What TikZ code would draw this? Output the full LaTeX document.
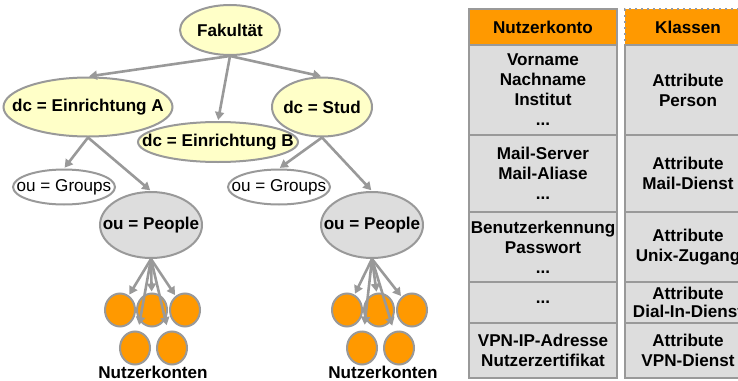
\documentclass[tikz,border=0pt]{standalone}
\usepackage{fontspec}
\setmainfont{Liberation Sans}
\usetikzlibrary{shapes.geometric,arrows.meta}

\definecolor{lineGray}{HTML}{999999}
\definecolor{paleYellow}{HTML}{FFFFC8}
\definecolor{cellGray}{HTML}{DDDDDD}
\definecolor{kontoOrange}{HTML}{FF9900}

% text of zero width, so the ellipse keeps its own size
\newcommand{\ctr}[1]{\makebox[0pt]{#1}}

\tikzset{
  labelfont/.style={font=\bfseries\fontsize{8.55}{10}\selectfont},
  knot/.style={ellipse, draw=lineGray, line width=1pt, fill=paleYellow, inner sep=0pt, labelfont},
  groups/.style={ellipse, draw=lineGray, line width=1pt, fill=white, inner sep=0pt,
    font=\fontsize{8.55}{10}\selectfont, minimum width=51pt, minimum height=17.5pt},
  people/.style={ellipse, draw=lineGray, line width=1pt, fill=cellGray, inner sep=0pt, labelfont,
    minimum width=51pt, minimum height=33pt},
  konto/.style={ellipse, draw=lineGray, line width=1pt, fill=kontoOrange, inner sep=0pt,
    minimum width=15pt, minimum height=16.5pt},
  link/.style={draw=lineGray, line width=1.3pt, -{Triangle[width=4.5pt,length=4pt]}, shorten >=0.5pt},
  cell/.style={rectangle, draw=lineGray, line width=1pt, fill=cellGray, inner sep=0pt, align=center, labelfont},
  head/.style={cell, fill=kontoOrange, minimum height=18pt},
}

\begin{document}
\begin{tikzpicture}[x=0.5pt, y=-0.5pt]
    \useasboundingbox (0,0) rectangle (738,380);

    % Directory tree
    \node[knot, minimum width=50pt, minimum height=25pt] (fak) at (230,30) {\ctr{Fakultät}};
    \node[knot, minimum width=84.5pt, minimum height=29.5pt] (einA) at (88,107) {\ctr{dc = Einrichtung A}};
    \node[knot, minimum width=80pt, minimum height=20pt] (einB) at (218,142) {\ctr{dc = Einrichtung B}};
    \node[knot, minimum width=50pt, minimum height=29.5pt] (stud) at (322,107) {\ctr{dc = Stud}};

    \node[groups] (grp1) at (64,187) {\ctr{ou = Groups}};
    \node[groups] (grp2) at (279,187) {\ctr{ou = Groups}};
    \node[people] (ppl1) at (151,225) {\ctr{ou = People}};
    \node[people] (ppl2) at (372,225) {\ctr{ou = People}};

    % Accounts below each People node
    \foreach \t/\dx in {1/0, 2/227} {
        \foreach \k/\x/\y in {1/120/310, 2/152/310, 3/185/310, 4/135/348, 5/172/348}
            \node[konto] (k\t\k) at (\x+\dx,\y) {};
    }
    \node[labelfont] (lab1) at (153,372) {Nutzerkonten};
    \node[labelfont] (lab2) at (383,372) {Nutzerkonten};

    % Connectors
    \foreach \a/\b in {fak.south/einA.north, fak.south/einB.north, fak.south/stud.north,
                       einA.south/grp1.north, einA.south/ppl1.north,
                       stud.south/grp2.north, stud.south/ppl2.north}
        \draw[link] (\a) -- (\b);
    \foreach \t in {1,2} {
        \foreach \k in {1,2,3}
            \draw[link] (ppl\t.south) -- (k\t\k);
        \foreach \k in {4,5}
            \draw[link, shorten >=3pt] (ppl\t.south) -- (k\t\k);
    }

    % Table: Nutzerkonto
    \node[head, minimum width=74pt] (nkHead) at (543,27) {Nutzerkonto};
    \node[cell, minimum width=74pt, minimum height=45pt] (nk1) at (543,90) {Vorname\\Nachname\\Institut\\...};
    \node[cell, minimum width=74pt, minimum height=38.5pt] (nk2) at (543,173.5) {Mail-Server\\Mail-Aliase\\...};
    \node[cell, minimum width=74pt, minimum height=35pt] (nk3) at (543,247) {Benutzerkennung\\Passwort\\...};
    \node[cell, minimum width=74pt, minimum height=20.5pt] (nk4) at (543,302.5) {...};
    \node[cell, minimum width=74pt, minimum height=27.5pt] (nk5) at (543,350.5) {VPN-IP-Adresse\\Nutzerzertifikat};

    % Table: Klassen (cut by the right edge, as in the original)
    \node[head, dotted, minimum width=63pt] (klHead) at (688,27) {Klassen};
    \node[cell, minimum width=63pt, minimum height=45pt] (kl1) at (688,90) {Attribute\\Person};
    \node[cell, minimum width=63pt, minimum height=38.5pt] (kl2) at (688,173.5) {Attribute\\Mail-Dienst};
    \node[cell, minimum width=63pt, minimum height=35pt] (kl3) at (688,247) {Attribute\\Unix-Zugang};
    \node[cell, minimum width=63pt, minimum height=20.5pt] (kl4) at (688,302.5) {Attribute\\[-1.2pt]Dial-In-Dienst};
    \node[cell, minimum width=63pt, minimum height=27.5pt] (kl5) at (688,350.5) {Attribute\\VPN-Dienst};
\end{tikzpicture}
\end{document}
